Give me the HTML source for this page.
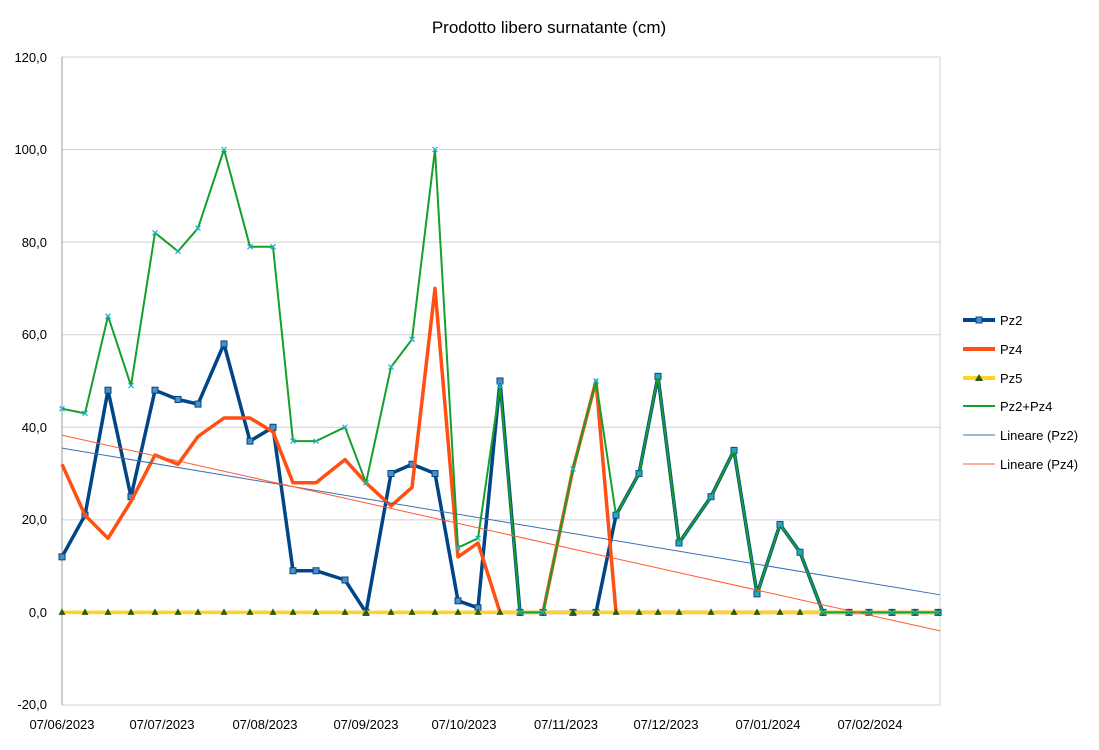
<!DOCTYPE html>
<html><head><meta charset="utf-8"><style>
body{margin:0;background:#fff;width:1099px;height:745px;overflow:hidden;font-family:"Liberation Sans",sans-serif}
</style></head><body>
<svg width="1099" height="745" xmlns="http://www.w3.org/2000/svg" font-family="Liberation Sans, sans-serif">
<text x="549" y="33" font-size="17" text-anchor="middle" fill="#000">Prodotto libero surnatante (cm)</text>
<g stroke="#d0d0d0" stroke-width="1">
<line x1="62" y1="57" x2="940" y2="57"/><line x1="62" y1="149.6" x2="940" y2="149.6"/>
<line x1="62" y1="242.1" x2="940" y2="242.1"/><line x1="62" y1="334.7" x2="940" y2="334.7"/>
<line x1="62" y1="427.3" x2="940" y2="427.3"/><line x1="62" y1="519.9" x2="940" y2="519.9"/>
<line x1="62" y1="612.4" x2="940" y2="612.4"/><line x1="62" y1="705" x2="940" y2="705"/>
<line x1="940" y1="57" x2="940" y2="705"/>
</g>
<line x1="62" y1="57" x2="62" y2="705" stroke="#999"/>
<g font-size="13" text-anchor="end" fill="#000">
<text x="47" y="62">120,0</text><text x="47" y="154">100,0</text><text x="47" y="247">80,0</text>
<text x="47" y="339">60,0</text><text x="47" y="432">40,0</text><text x="47" y="524">20,0</text>
<text x="47" y="617">0,0</text><text x="47" y="709">-20,0</text>
</g>
<g font-size="13" text-anchor="middle" fill="#000">
<text x="62" y="729">07/06/2023</text><text x="162" y="729">07/07/2023</text><text x="265" y="729">07/08/2023</text>
<text x="366" y="729">07/09/2023</text><text x="464" y="729">07/10/2023</text><text x="566" y="729">07/11/2023</text>
<text x="666" y="729">07/12/2023</text><text x="768" y="729">07/01/2024</text><text x="870" y="729">07/02/2024</text>
</g>
<g id="plot"></g>
<g font-size="13" fill="#000">
<line x1="963" y1="320" x2="995" y2="320" stroke="#004586" stroke-width="4"/><rect x="976" y="317" width="6" height="6" fill="#4a90c8" stroke="#004586"/><text x="1000" y="325">Pz2</text>
<line x1="963" y1="349" x2="995" y2="349" stroke="#ff4f12" stroke-width="4"/><text x="1000" y="354">Pz4</text>
<line x1="963" y1="378" x2="995" y2="378" stroke="#ffd320" stroke-width="4"/><polygon points="979,374 983,381 975,381" fill="#2a5a10"/><text x="1000" y="383">Pz5</text>
<line x1="963" y1="406" x2="995" y2="406" stroke="#14a02a" stroke-width="2"/><text x="1000" y="411">Pz2+Pz4</text>
<line x1="963" y1="435" x2="995" y2="435" stroke="#3f6fb0" stroke-width="1"/><text x="1000" y="440">Lineare (Pz2)</text>
<line x1="963" y1="464" x2="995" y2="464" stroke="#ff5c30" stroke-width="1"/><text x="1000" y="469">Lineare (Pz4)</text>
</g>
</svg>
<script>
const X=[62,85,108,131,155,178,198,224,250,273,293,316,345,366,391,412,435,458,478,500,520,543,573,596,616,639,658,679,711,734,757,780,800,823,849,869,892,915,938];
const pz2=[12,21,48,25,48,46,45,58,37,40,9,9,7,0,30,32,30,2.5,1,50,0,0,0,0,21,30,51,15,25,35,4,19,13,0,0,0,0,0,0];
const pz4=[32,21,16,24,34,32,38,42,42,39,28,28,33,28,23,27,70,12,15,0,0,0,31,50,0,0,0,0,0,0,0,0,0,0,0,0,0,0,0];
const sum=[44,43,64,49,82,78,83,100,79,79,37,37,40,28,53,59,100,14,16,49,0,0,31,50,21,30,51,15,25,35,4,19,13,0,0,0,0,0,0];
const Y=v=>612.4-v*4.629;
const g=document.getElementById('plot');let s='';
const pl=(a,c,w)=>`<polyline fill="none" stroke="${c}" stroke-width="${w}" stroke-linejoin="round" points="${a.map((v,i)=>X[i]+','+Y(v).toFixed(1)).join(' ')}"/>`;
s+=pl(pz2,'#004586',3.5);
pz2.forEach((v,i)=>s+=`<rect x="${X[i]-3}" y="${Y(v)-3}" width="6" height="6" fill="#4a90c8" stroke="#004586" stroke-width="1"/>`);
s+=pl(pz4,'#ff4f12',3.5);
s+=pl(pz4.map(()=>0),'#ffd320',3.5);
X.forEach(x=>s+=`<polygon points="${x},${Y(0)-4} ${x+3.5},${Y(0)+2.5} ${x-3.5},${Y(0)+2.5}" fill="#2a5a10"/>`);
s+=pl(sum,'#14a02a',2);
sum.forEach((v,i)=>{const x=X[i],y=Y(v);s+=`<path d="M${x-2.5},${y-2.5}L${x+2.5},${y+2.5}M${x-2.5},${y+2.5}L${x+2.5},${y-2.5}" stroke="#1cb0d0" stroke-width="1.2"/>`});
s+=`<line x1="62" y1="${Y(35.5)}" x2="940" y2="${Y(3.8)}" stroke="#3f6fb0" stroke-width="1"/>`;
s+=`<line x1="62" y1="${Y(38.3)}" x2="940" y2="${Y(-4)}" stroke="#ff5c30" stroke-width="1"/>`;
g.innerHTML=s;
</script>
</body></html>
